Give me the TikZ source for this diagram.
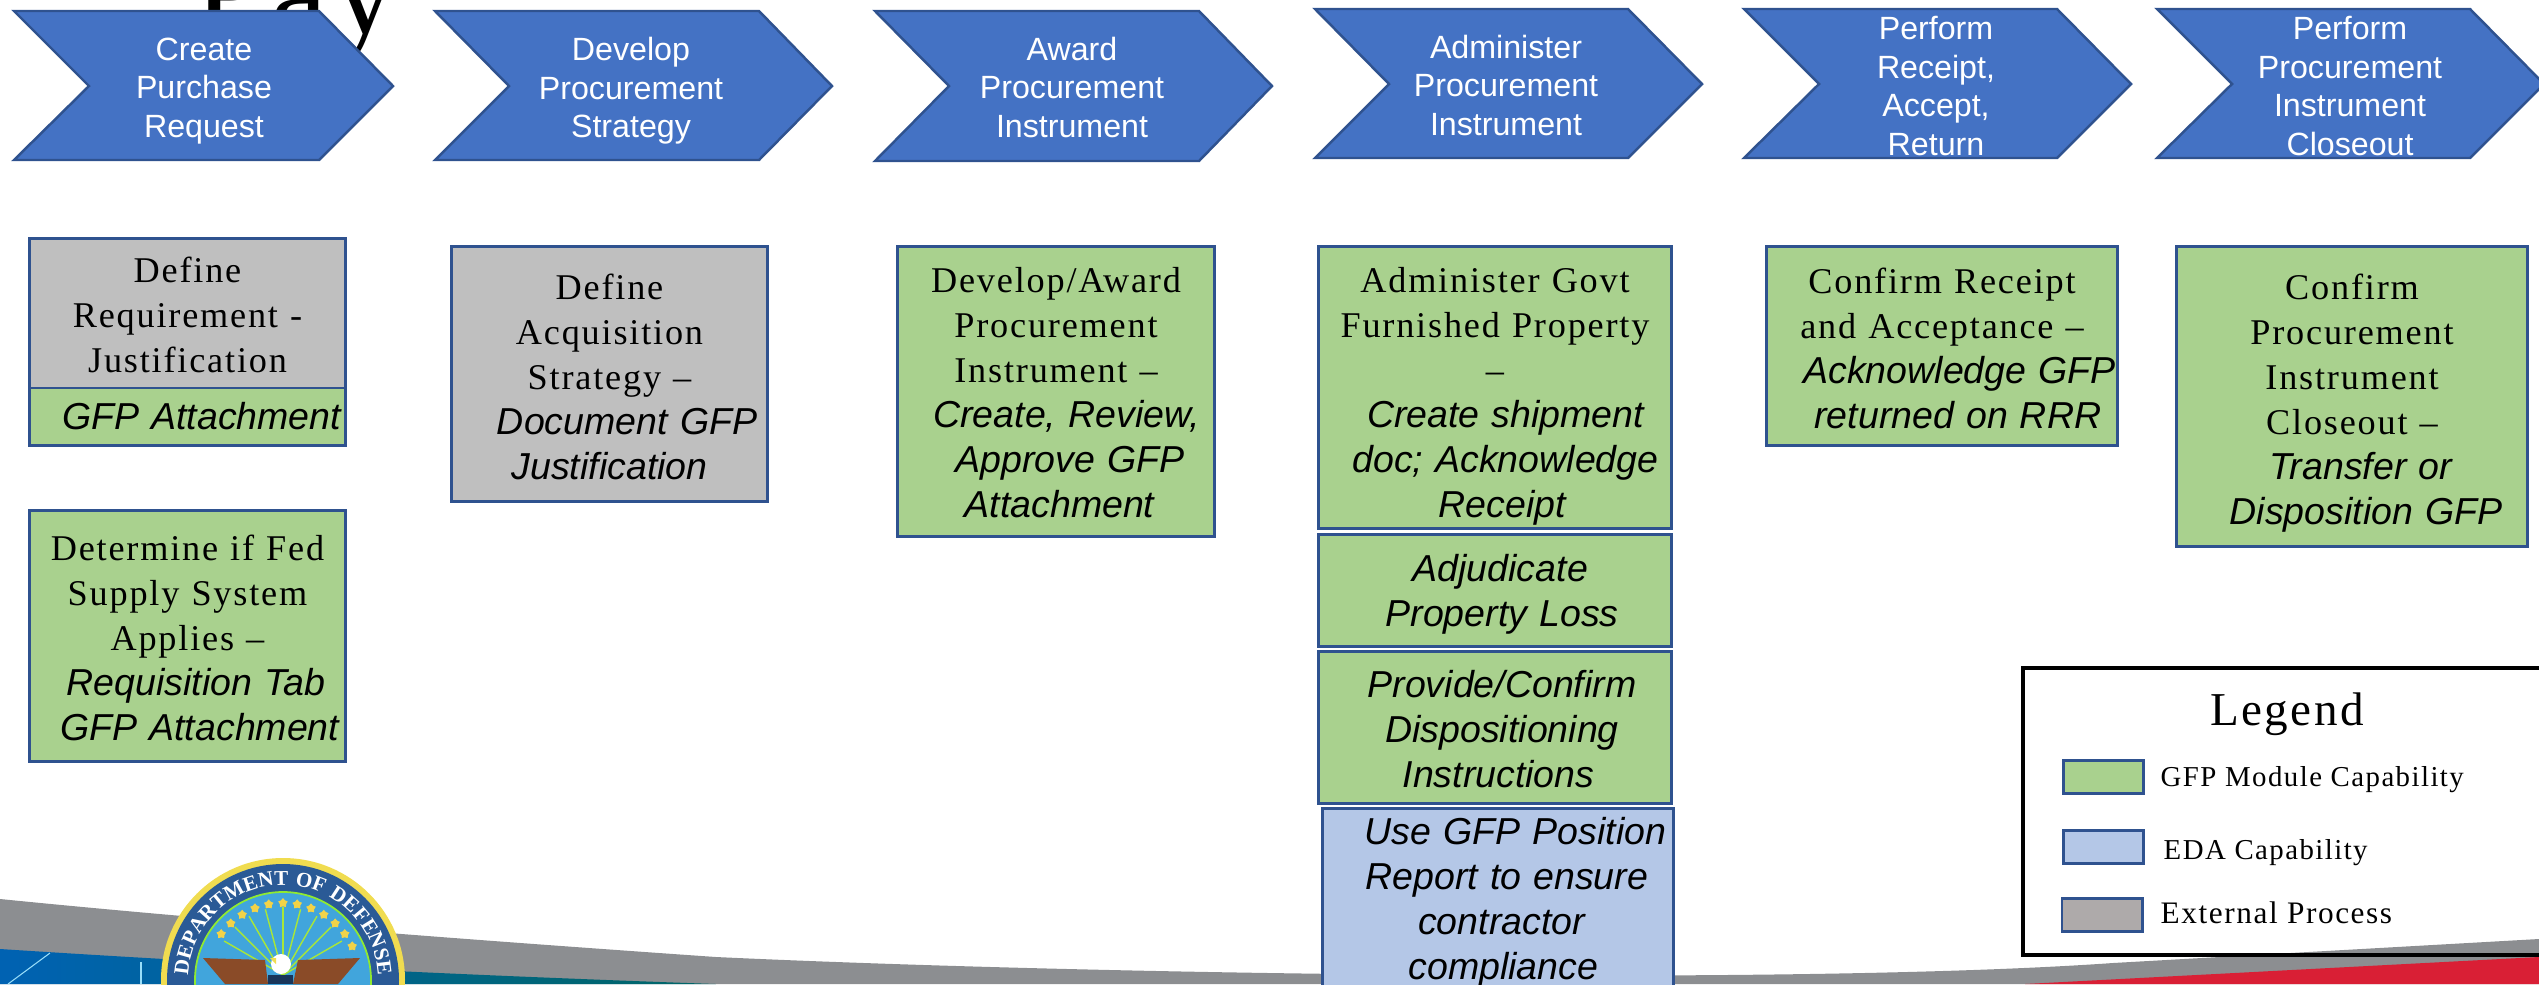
\documentclass[tikz,border=0pt]{standalone}
\usepackage{fontspec}
\setmainfont{Liberation Serif}[LetterSpace=5]
\setsansfont{Liberation Sans}
\usetikzlibrary{shapes.geometric,decorations.text}
\definecolor{chevfill}{HTML}{4472C4}
\definecolor{chevline}{HTML}{2F528F}
\definecolor{gfpgreen}{HTML}{A9D18E}
\definecolor{edablue}{HTML}{B4C7E7}
\definecolor{extgrey}{HTML}{BFBFBF}
\definecolor{legrey}{HTML}{AEAAAA}
\definecolor{swooshgrey}{HTML}{8C8E91}
\definecolor{swooshred}{HTML}{D91F35}
\definecolor{sealblue}{HTML}{2A5A96}
\definecolor{sealsky}{HTML}{41A5DC}
\definecolor{sealgold}{HTML}{F0DC50}
\definecolor{sealbrown}{HTML}{8A4B28}
\newcommand{\itline}[2][0pt]{\makebox[0pt]{\hspace*{#1}{\sffamily\itshape\fontsize{10.67}{12.8}\selectfont #2}}}
\newcommand{\topgap}[1]{\rule{0pt}{#1}}
\tikzset{
  chevron/.style={draw=chevline,fill=chevfill,line width=0.7pt},
  chevtext/.style={text=white,align=center,inner sep=0,font=\sffamily\fontsize{9.15}{10.95}\selectfont},
  stepcard/.style={draw=chevline,line width=0.85pt,inner sep=0,align=center,font=\fontsize{10.3}{12.8}\selectfont},
  greencard/.style={stepcard,fill=gfpgreen},
  bluecard/.style={stepcard,fill=edablue},
  greycard/.style={stepcard,fill=extgrey},
  swatch/.style={draw=chevline,line width=0.85pt,minimum width=0.8cm,minimum height=0.33cm,inner sep=0},
  legendtext/.style={anchor=west,inner sep=0,font=\fontsize{8.2}{10}\selectfont}
}

\begin{document}
\begin{tikzpicture}[x=0.01cm,y=-0.01cm]
\useasboundingbox (0,0) rectangle (2539,984);

\node (titletext) [anchor=base west,inner sep=0,font=\fontsize{36}{36}\selectfont] at (194,33) {Pay};

\fill [swooshgrey] (0,899) .. controls (180,917) and (400,935) .. (716,957) .. controls (1100,975) and (1800,985) .. (2113,963) -- (2539,939) -- (2539,984) -- (0,984) -- cycle;
\shade [left color=black!0!blue!45!cyan!70!black,right color=teal!80!black] (0,949) .. controls (170,960) and (400,973) .. (716,984) -- (0,984) -- cycle;
\fill [swooshred] (2025,984) -- (2539,957) -- (2539,984) -- cycle;
\draw [white!60!cyan,line width=0.3pt] (50,953) -- (8,984);
\draw [white!60!cyan,line width=0.3pt] (141,962) -- (141,984);

\fill [sealgold] (283,980) circle[radius=122];
\fill [sealblue] (283,980) circle[radius=116];
\filldraw [fill=sealsky,draw=sealgold!60!green,line width=0.5pt] (283,980) circle[radius=88];
\foreach \a in {30,45,...,150} \draw [sealgold!70!green,line width=0.4pt] (283,975) -- ++({-\a}:68);
\foreach \a in {26,36.67,...,154} \node (sealstar\a) [star,star points=5,fill=sealgold!90!orange,inner sep=0,minimum size=0.1cm] at ([shift={({-\a}:77)}]283,980) {};
\path [postaction={decorate},decoration={text along path,text align=center,text color=white,text={|\fontsize{6}{6}\selectfont\bfseries|DEPARTMENT OF DEFENSE}}] (188.4,971.7) arc[start angle=-175,end angle=-5,radius=95];
\fill [sealbrown] (203,958) -- (265,960) -- (268,984) -- (225,984) -- cycle;
\fill [sealbrown] (360,958) -- (298,960) -- (293,984) -- (338,984) -- cycle;
\fill [white] (281,964) ellipse[x radius=10,y radius=10];
\fill [sealgold] (270,958) -- (276,958) -- (276,964) -- cycle;
\fill [sealblue!60!black] (268,975) rectangle (293,984);

\draw [chevron] (14,11) -- (319,11) -- (393,86) -- (319,160) -- (14,160) -- (89,86) -- cycle;
\node (createhead) [chevtext] at (204,91) {Create\\Purchase\\Request};

\draw [chevron] (435,11) -- (759,11) -- (832,86) -- (759,160) -- (435,160) -- (509,86) -- cycle;
\node (develophead) [chevtext] at (631,91) {Develop\\Procurement\\Strategy};

\draw [chevron] (875,11) -- (1199,11) -- (1272,86) -- (1199,161) -- (875,161) -- (949,86) -- cycle;
\node (awardhead) [chevtext] at (1072,87) {Award\\Procurement\\Instrument};

\draw [chevron] (1315,9) -- (1628,9) -- (1702,84) -- (1628,158) -- (1315,158) -- (1389,84) -- cycle;
\node (adminhead) [chevtext] at (1506,85) {Administer\\Procurement\\Instrument};

\draw [chevron] (1744,9) -- (2057,9) -- (2131,84) -- (2057,158) -- (1744,158) -- (1819,84) -- cycle;
\node (receipthead) [chevtext] at (1936,86) {Perform\\Receipt,\\Accept,\\Return};

\draw [chevron] (2157,9) -- (2470,9) -- (2544,84) -- (2470,158) -- (2157,158) -- (2232,84) -- cycle;
\node (closehead) [chevtext] at (2350,86) {Perform\\Procurement\\Instrument\\Closeout};

\node (definereq) [greycard,text width=3.15cm,minimum height=1.49cm] at (187.5,313.5) {\topgap{8.1pt}Define\\Requirement -\\Justification};
\node (reqattach) [greencard,text width=3.15cm,minimum height=0.57cm] at (187.5,416.5) {\itline[8pt]{GFP Attachment}};
\node (fedsupply) [greencard,text width=3.15cm,minimum height=2.5cm] at (187.5,636) {\topgap{8.1pt}Determine if Fed\\Supply System\\Applies --\\\itline[5pt]{Requisition Tab}\\\itline[7pt]{GFP Attachment}};

\node (defineacq) [greycard,text width=3.15cm,minimum height=2.54cm] at (609.5,374) {\topgap{8.7pt}Define\\Acquisition\\Strategy --\\\itline[10pt]{Document GFP}\\\itline{Justification}};

\node (awardcard) [greencard,text width=3.16cm,minimum height=2.89cm] at (1056,391.5) {\topgap{7.6pt}Develop/Award\\Procurement\\Instrument --\\\itline[6pt]{Create, Review,}\\\itline[8pt]{Approve GFP}\\\itline[2pt]{Attachment}};

\node (govtprop) [greencard,text width=3.52cm,minimum height=2.81cm] at (1495,387.5) {\topgap{12.1pt}Administer Govt\\Furnished Property\\--\\\itline[6pt]{Create shipment}\\\itline[6pt]{doc; Acknowledge}\\\itline[4pt]{Receipt}};
\node (propertyloss) [greencard,text width=3.52cm,minimum height=1.11cm] at (1495,590.5) {\topgap{10.1pt}\itline[3pt]{Adjudicate}\\\itline[4pt]{Property Loss}};
\node (dispinstr) [greencard,text width=3.52cm,minimum height=1.51cm] at (1495,727.5) {\topgap{8.9pt}\itline[4pt]{Provide/Confirm}\\\itline[4pt]{Dispositioning}\\\itline[2pt]{Instructions}};
\node (positionrpt) [bluecard,text width=3.5cm,minimum height=1.83cm] at (1498,900.5) {\topgap{8.9pt}\itline[10pt]{Use GFP Position}\\\itline[5pt]{Report to ensure}\\\itline[2pt]{contractor}\\\itline[3pt]{compliance}};

\node (confirmrcpt) [greencard,text width=3.5cm,minimum height=1.98cm] at (1942,346) {\topgap{8.7pt}Confirm Receipt\\and Acceptance --\\\itline[10pt]{Acknowledge GFP}\\\itline[9pt]{returned on RRR}};

\node (confirmclose) [greencard,text width=3.5cm,minimum height=2.99cm] at (2352,396.5) {\topgap{11pt}Confirm\\Procurement\\Instrument\\Closeout --\\\itline[5pt]{Transfer or}\\\itline[8pt]{Disposition GFP}};

\node (legendbox) [draw=black,line width=1pt,minimum width=5.3cm,minimum height=2.87cm,inner sep=0] at (2288,811.5) {};
\node (legendtitle) [inner sep=0,font=\fontsize{13.4}{16}\selectfont] at (2287,714) {Legend};
\node (greenswatch) [swatch,fill=gfpgreen] at (2103.5,777) {};
\node (greenlabel) [legendtext] at (2160,780) {GFP Module Capability};
\node (blueswatch) [swatch,fill=edablue] at (2103.5,846.5) {};
\node (bluelabel) [legendtext] at (2163,853) {EDA Capability};
\node (greyswatch) [swatch,fill=legrey] at (2102,915) {};
\node (greylabel) [legendtext,font=\fontsize{8.9}{10}\selectfont] at (2160,913) {External Process};
\end{tikzpicture}
\end{document}
